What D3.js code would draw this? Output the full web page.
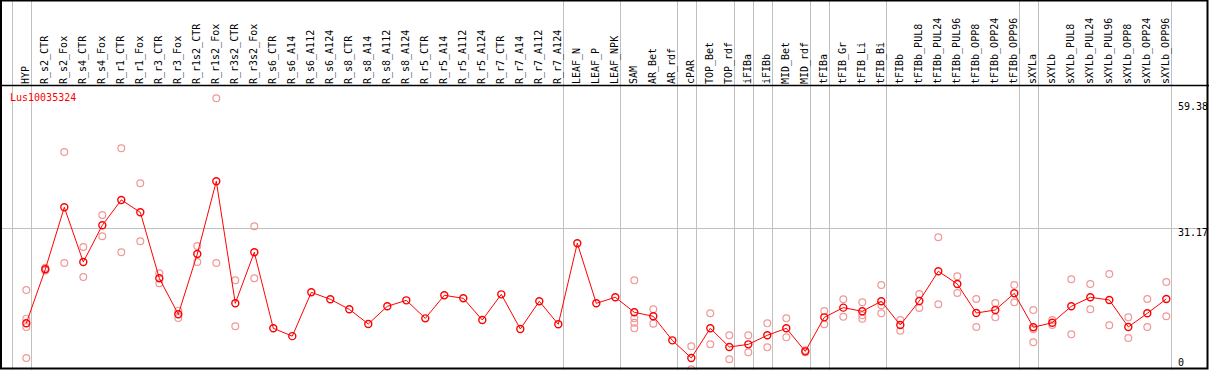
<!DOCTYPE html>
<html>
<head>
<meta charset="utf-8">
<script src="https://cdn.jsdelivr.net/npm/d3@7/dist/d3.min.js"></script>
<style>
  html, body { margin: 0; padding: 0; background: #fff; }
  svg { display: block; }
  text { font-family: "DejaVu Sans Mono", monospace; font-size: 10px; }
</style>
</head>
<body>
<svg id="chart"></svg>
<script>
"use strict";

var geneName = "Lus10035324";

var categories = [
  "HYP", "R_s2_CTR", "R_s2_Fox", "R_s4_CTR", "R_s4_Fox", "R_r1_CTR", "R_r1_Fox",
  "R_r3_CTR", "R_r3_Fox", "R_r1s2_CTR", "R_r1s2_Fox", "R_r3s2_CTR", "R_r3s2_Fox",
  "R_s6_CTR", "R_s6_A14", "R_s6_A112", "R_s6_A124", "R_s8_CTR", "R_s8_A14",
  "R_s8_A112", "R_s8_A124", "R_r5_CTR", "R_r5_A14", "R_r5_A112", "R_r5_A124",
  "R_r7_CTR", "R_r7_A14", "R_r7_A112", "R_r7_A124", "LEAF_N", "LEAF_P", "LEAF_NPK",
  "SAM", "AR_Bet", "AR_rdf", "cPAR", "TOP_Bet", "TOP_rdf", "iFIBa", "iFIBb",
  "MID_Bet", "MID_rdf", "tFIBa", "tFIB_Gr", "tFIB_Li", "tFIB_Bi", "tFIBb",
  "tFIBb_PUL8", "tFIBb_PUL24", "tFIBb_PUL96", "tFIBb_OPP8", "tFIBb_OPP24", "tFIBb_OPP96",
  "sXYLa", "sXYLb", "sXYLb_PUL8", "sXYLb_PUL24", "sXYLb_PUL96", "sXYLb_OPP8",
  "sXYLb_OPP24", "sXYLb_OPP96"
];

// first category of each tissue group (a separator is drawn before each, and after the last)
var groupStarts = [
  "HYP", "R_s2_CTR", "LEAF_N", "SAM", "cPAR", "TOP_Bet", "iFIBa", "iFIBb",
  "MID_Bet", "tFIBa", "tFIB_Gr", "tFIBb", "sXYLa", "sXYLb"
];

// mean expression per category
var meanValues = [
  10.57, 22.28, 35.74, 23.87, 31.83, 37.33, 34.65, 20.33, 12.52, 25.61, 41.38, 14.90, 25.97,
  9.48, 7.78, 17.29, 15.77, 13.60, 10.42, 14.25, 15.55, 11.64, 16.64, 15.99, 11.28,
  16.85, 9.33, 15.34, 10.35, 27.93, 14.90, 16.21,
  12.95, 12.08, 6.87, 3.04, 9.48, 5.43, 6.00, 7.96, 9.48, 4.48,
  11.86, 13.96, 13.17, 15.34, 10.20,
  15.41, 21.85, 19.10, 12.80, 13.45, 17.07,
  9.70, 10.70, 14.25, 16.21, 15.63, 9.77, 12.73, 15.84
];

// individual replicates per category
var replicateValues = [
  [17.8, 11.57, 9.77, 3.04], [22.0, 22.6], [47.74, 23.65], [27.13, 20.62], [34.07, 29.45],
  [48.54, 25.97], [40.94, 28.36], [21.41, 19.24], [13.31, 11.72], [27.34, 23.87],
  [59.38, 23.65], [19.9, 9.92], [31.62, 20.33],
  [], [], [], [], [], [], [], [], [], [], [], [], [], [], [], [], [], [], [],
  [19.9, 11.64, 10.7, 9.48], [13.6, 10.49], [], [5.57, 0.58], [12.73, 6.0], [7.96, 2.75],
  [7.96, 4.27], [10.56, 5.35], [11.64, 7.52], [4.3, 4.7],
  [13.24, 10.35], [15.77, 12.0], [15.13, 12.3, 11.57], [18.88, 14.47, 12.73], [11.28, 8.97],
  [16.93, 13.89], [29.23, 14.69], [20.77, 17.14], [15.84, 9.77], [14.97, 11.86], [18.88, 15.13],
  [13.45, 9.26, 6.44], [11.28, 10.2], [20.12, 8.18], [19.1, 13.6], [21.27, 10.13],
  [11.86, 7.38], [15.84, 9.77], [19.53, 12.08]
];

var yTickValues = [0, 31.17, 59.38];
var yMax = 59.38;

var W = 1209, H = 370;
var headerY = 85.5;
var step = 19;
var bandLeft = 17;

var svg = d3.select("#chart").attr("width", W).attr("height", H);

var xBand = d3.scaleBand()
  .domain(categories)
  .range([bandLeft, bandLeft + step * categories.length])
  .paddingInner(0).paddingOuter(0);

function xPos(c) { return xBand(c) + 9.3; }

var y = d3.scaleLinear().domain([0, yMax]).range([372, 98.3]);

// background
svg.append("rect").attr("x", 0).attr("y", 0).attr("width", W).attr("height", H).attr("fill", "#fff");

// horizontal grid (inner ticks only)
svg.append("g").selectAll("line")
  .data(yTickValues.filter(function(v) { return v > 0 && v < yMax; }))
  .enter().append("line")
  .attr("x1", 0).attr("x2", W)
  .attr("y1", function(d) { return Math.round(y(d)) + 0.5; })
  .attr("y2", function(d) { return Math.round(y(d)) + 0.5; })
  .attr("stroke", "#c0c0c0").attr("stroke-width", 1);

// group separators
var sepX = groupStarts.map(function(c) { return xBand(c) - 5.3; });
sepX.push(bandLeft + step * categories.length - 5.3);
svg.append("g").selectAll("line")
  .data(sepX)
  .enter().append("line")
  .attr("x1", function(d) { return Math.round(d) + 0.5; })
  .attr("x2", function(d) { return Math.round(d) + 0.5; })
  .attr("y1", 0).attr("y2", H)
  .attr("stroke", "#c0c0c0").attr("stroke-width", 1);

// header labels
svg.append("g").selectAll("text")
  .data(categories)
  .enter().append("text")
  .attr("transform", function(d) { return "translate(" + (xPos(d) + 2.5) + "," + (headerY - 1.5) + ") rotate(-90)"; })
  .attr("fill", "#000")
  .text(function(d) { return d; });

// header separator line
svg.append("line")
  .attr("x1", 0).attr("x2", W)
  .attr("y1", headerY).attr("y2", headerY)
  .attr("stroke", "#000").attr("stroke-width", 1.5);

// y labels on the right
svg.append("g").selectAll("text")
  .data(yTickValues)
  .enter().append("text")
  .attr("x", 1178)
  .attr("y", function(d) { return Math.max(102, Math.min(358, y(d))) + 7.5; })
  .attr("fill", "#000")
  .text(function(d) { return d === 0 ? "0" : d3.format(".2f")(d); });

// gene name
svg.append("text")
  .attr("x", 10).attr("y", 100.5)
  .attr("fill", "#ff0000")
  .text(geneName);

// replicates
var repPoints = [];
categories.forEach(function(c, i) {
  replicateValues[i].forEach(function(v) { repPoints.push({c: c, v: v}); });
});
svg.append("g").selectAll("circle")
  .data(repPoints)
  .enter().append("circle")
  .attr("cx", function(d) { return xPos(d.c); })
  .attr("cy", function(d) { return y(d.v); })
  .attr("r", 3.4)
  .attr("fill", "none")
  .attr("stroke", "#f09898")
  .attr("stroke-width", 1.2);

// mean line
var meanData = categories.map(function(c, i) { return {c: c, v: meanValues[i]}; });
var line = d3.line()
  .x(function(d) { return xPos(d.c); })
  .y(function(d) { return y(d.v); });

svg.append("path")
  .attr("d", line(meanData))
  .attr("fill", "none")
  .attr("stroke", "#ff0000")
  .attr("stroke-width", 1);

svg.append("g").selectAll("circle")
  .data(meanData)
  .enter().append("circle")
  .attr("cx", function(d) { return xPos(d.c); })
  .attr("cy", function(d) { return y(d.v); })
  .attr("r", 3.5)
  .attr("fill", "none")
  .attr("stroke", "#ff0000")
  .attr("stroke-width", 1.4);

// outer frame
svg.append("rect")
  .attr("x", 1).attr("y", 0.5)
  .attr("width", W - 2.5).attr("height", H - 2)
  .attr("fill", "none")
  .attr("stroke", "#000").attr("stroke-width", 2);
</script>
</body>
</html>
